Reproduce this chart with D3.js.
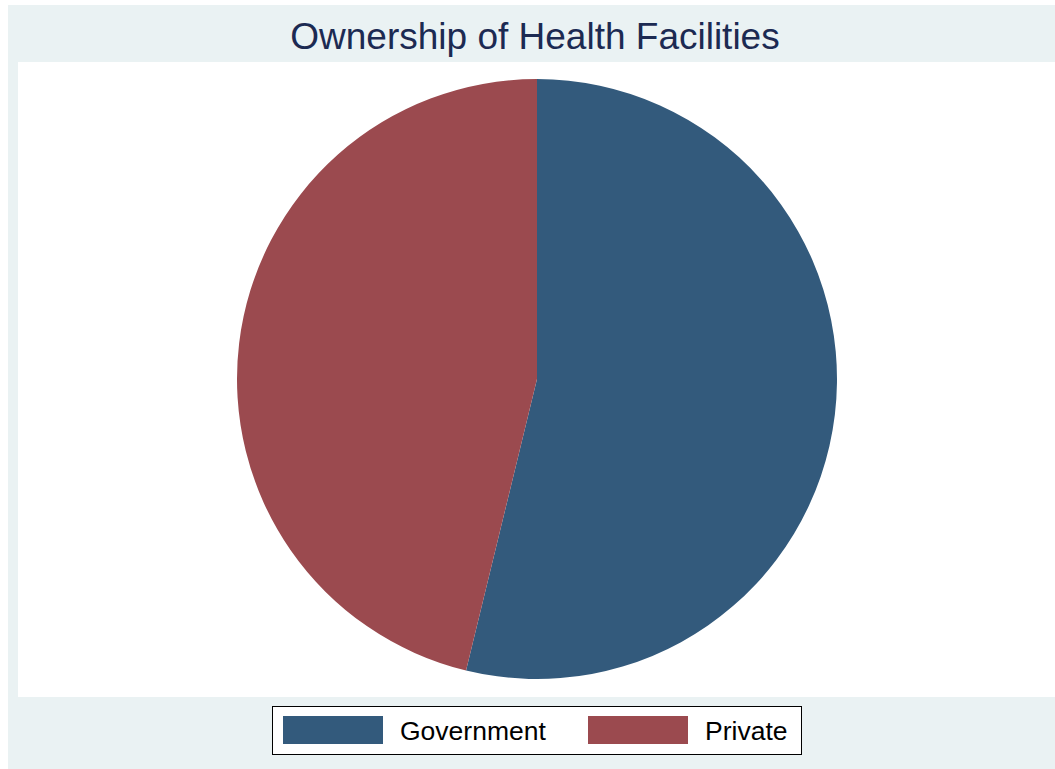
<!DOCTYPE html>
<html>
<head>
<meta charset="utf-8">
<script src="https://cdn.jsdelivr.net/npm/d3@7"></script>
<style>
  body { margin: 0; background: #fff; }
  svg { display: block; font-family: "Liberation Sans", Arial, sans-serif; }
</style>
</head>
<body>
<div id="chart"></div>
<script>
// Ownership shares (percent)
const categories = ["Government", "Private"];
const shares = [53.8, 46.2];
const colors = ["#335a7c", "#9b4a4f"];
const title = "Ownership of Health Facilities";

const W = 1055, H = 769;

const svg = d3.select("#chart")
  .append("svg")
  .attr("width", W)
  .attr("height", H);

// outer graph region
svg.append("rect")
  .attr("x", 8).attr("y", 5)
  .attr("width", W - 8).attr("height", H - 5)
  .attr("fill", "#eaf2f3");

// plot region
svg.append("rect")
  .attr("x", 18).attr("y", 62)
  .attr("width", W - 18).attr("height", 697 - 62)
  .attr("fill", "#ffffff");

svg.append("text")
  .attr("x", 535).attr("y", 49)
  .attr("text-anchor", "middle")
  .attr("font-size", 37)
  .attr("fill", "#1c2a52")
  .text(title);

// pie
const data = categories.map((c, i) => ({ name: c, value: shares[i], color: colors[i] }));
const pie = d3.pie().value(d => d.value).sort(null);
const arc = d3.arc().innerRadius(0).outerRadius(300);

const g = svg.append("g")
  .attr("transform", "translate(537,379)");

g.selectAll("path")
  .data(pie(data))
  .enter()
  .append("path")
  .attr("d", arc)
  .attr("fill", d => d.data.color);

// legend
const legend = svg.append("g");
legend.append("rect")
  .attr("x", 272.5).attr("y", 706.5)
  .attr("width", 529).attr("height", 48)
  .attr("fill", "#ffffff")
  .attr("stroke", "#000")
  .attr("stroke-width", 1);

const lx = d3.scalePoint().domain(categories).range([283, 588]);

const item = legend.selectAll("g.item")
  .data(data)
  .enter()
  .append("g")
  .attr("class", "item")
  .attr("transform", d => "translate(" + lx(d.name) + ",716)");

item.append("rect")
  .attr("width", 100).attr("height", 28)
  .attr("fill", d => d.color);

item.append("text")
  .attr("x", 117).attr("y", 24)
  .attr("font-size", 26.5)
  .attr("fill", "#000")
  .text(d => d.name);
</script>
</body>
</html>
